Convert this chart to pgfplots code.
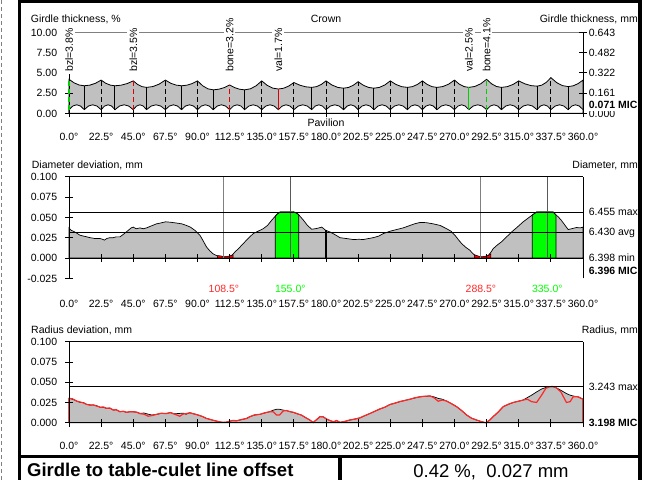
\documentclass[border=0pt]{standalone}
\usepackage{pgfplots}
\usepackage{pgfplotstable}
\pgfplotsset{compat=1.18}
\usepackage{fontspec}
\setmainfont{Liberation Sans}
\definecolor{fillgray}{RGB}{192,192,192}
\definecolor{mred}{RGB}{220,0,0}
\definecolor{mgreen}{RGB}{0,210,0}
\definecolor{lred}{RGB}{255,40,40}
\definecolor{lgreen}{RGB}{0,255,0}
\definecolor{lgray}{RGB}{128,128,128}

% Girdle: upper boundary (crown side), %
\pgfplotstableread{
x y
0 4.2
3.57 3.76
7.13 3.49
10.7 3.4
14.63 3.48
18.57 3.71
22.5 4.1
25.73 3.71
28.97 3.48
32.2 3.4
36.47 3.47
40.73 3.67
45 4.0
48.1 3.56
51.2 3.29
54.3 3.2
58.7 3.30
63.1 3.60
67.5 4.1
71.27 3.71
75.03 3.48
78.8 3.4
82.53 3.47
86.27 3.67
90 4.0
93.67 3.39
97.33 3.02
101 2.9
104.83 2.97
108.67 3.17
112.5 3.5
116 3.17
119.5 2.97
123 2.9
127 3.02
131 3.39
135 4.0
138.87 3.44
142.73 3.11
146.6 3.0
150.23 3.09
153.87 3.36
157.5 3.8
161.67 3.47
165.83 3.27
170 3.2
173.33 3.29
176.67 3.56
180 4.0
184.1 3.50
188.2 3.20
192.3 3.1
195.7 3.19
199.1 3.46
202.5 3.9
206.2 3.46
209.9 3.19
213.6 3.1
217.4 3.20
221.2 3.50
225 4.0
229 3.56
233 3.29
237 3.2
240.5 3.29
244 3.56
247.5 4.0
250.9 3.56
254.3 3.29
257.7 3.2
261.8 3.30
265.9 3.60
270 4.1
273.33 3.60
276.67 3.30
280 3.2
284.17 3.31
288.33 3.64
292.5 4.2
295.97 3.64
299.43 3.31
302.9 3.2
306.93 3.29
310.97 3.56
315 4.0
319.27 3.64
323.53 3.42
327.8 3.35
331.03 3.47
334.27 3.82
337.5 4.4
341.53 3.79
345.57 3.42
349.6 3.3
353.07 3.39
356.53 3.66
360 4.1
}\gtop

% Girdle: lower boundary (pavilion side), %
\pgfplotstableread{
x y
0 0.45
2.68 0.9
5.35 1.05
8.03 0.9
10.7 0.45
13.65 0.9
16.6 1.05
19.55 0.9
22.5 0.45
24.93 0.9
27.35 1.05
29.78 0.9
32.2 0.45
35.4 0.9
38.6 1.05
41.8 0.9
45 0.45
47.33 0.9
49.65 1.05
51.98 0.9
54.3 0.45
57.6 0.9
60.9 1.05
64.2 0.9
67.5 0.45
70.33 0.9
73.15 1.05
75.98 0.9
78.8 0.45
81.6 0.9
84.4 1.05
87.2 0.9
90 0.45
92.75 0.9
95.5 1.05
98.25 0.9
101 0.45
103.88 0.9
106.75 1.05
109.63 0.9
112.5 0.45
115.13 0.9
117.75 1.05
120.38 0.9
123 0.45
126 0.9
129 1.05
132 0.9
135 0.45
137.9 0.9
140.8 1.05
143.7 0.9
146.6 0.45
149.33 0.9
152.05 1.05
154.78 0.9
157.5 0.45
160.63 0.9
163.75 1.05
166.88 0.9
170 0.45
172.5 0.9
175 1.05
177.5 0.9
180 0.45
183.08 0.9
186.15 1.05
189.23 0.9
192.3 0.45
194.85 0.9
197.4 1.05
199.95 0.9
202.5 0.45
205.28 0.9
208.05 1.05
210.83 0.9
213.6 0.45
216.45 0.9
219.3 1.05
222.15 0.9
225 0.45
228 0.9
231 1.05
234 0.9
237 0.45
239.63 0.9
242.25 1.05
244.88 0.9
247.5 0.45
250.05 0.9
252.6 1.05
255.15 0.9
257.7 0.45
260.78 0.9
263.85 1.05
266.93 0.9
270 0.45
272.5 0.9
275 1.05
277.5 0.9
280 0.45
283.13 0.9
286.25 1.05
289.38 0.9
292.5 0.45
295.1 0.9
297.7 1.05
300.3 0.9
302.9 0.45
305.93 0.9
308.95 1.05
311.98 0.9
315 0.45
318.2 0.9
321.4 1.05
324.6 0.9
327.8 0.45
330.23 0.9
332.65 1.05
335.08 0.9
337.5 0.45
340.53 0.9
343.55 1.05
346.58 0.9
349.6 0.45
352.2 0.9
354.8 1.05
357.4 0.9
360 0.45
}\gbot

% Diameter deviation, mm
\pgfplotstableread{
x y
0 0.037
1.5 0.034
3 0.033
5 0.031
7.7 0.028
10 0.027
12.5 0.026
14.7 0.025
18 0.024
21.7 0.024
23.5 0.023
24.8 0.022
26.5 0.024
28.7 0.025
31 0.025
33 0.026
35.7 0.026
38 0.029
41.5 0.034
43.5 0.037
45 0.038
47 0.036
49.7 0.037
52 0.036
54.3 0.037
57 0.039
61.3 0.042
64 0.043
67.7 0.0445
71 0.044
75.3 0.043
79 0.042
82.3 0.040
85 0.038
88.2 0.034
90 0.031
91.7 0.028
94 0.021
96.3 0.0136
98.5 0.009
101 0.005
104.5 0.002
106.5 0.0015
108.5 0
110.5 0.001
112.7 0.002
114.5 0.004
116.2 0.0074
119 0.012
122 0.0177
125.5 0.024
129 0.030
132.5 0.033
136 0.036
139 0.040
142 0.0465
145.5 0.0535
147.8 0.0565
152 0.0565
157.2 0.0567
159 0.0555
160.7 0.0535
164.2 0.0465
167 0.040
170 0.0354
172.5 0.036
175 0.037
177 0.038
179.8 0.034
182.8 0.032
186 0.029
189.8 0.025
194 0.024
199.1 0.0227
203 0.023
206.1 0.0227
210 0.024
213.1 0.025
217 0.027
220.1 0.030
225 0.033
229.4 0.035
234 0.037
238.8 0.040
242 0.042
245.8 0.0437
250 0.0435
255.1 0.042
260 0.040
264.5 0.036
267.5 0.033
270.3 0.028
272.5 0.023
275 0.0177
278 0.013
280.8 0.0095
282.5 0.006
284.3 0.003
286.5 0.0015
288.5 0
291 0.001
293.6 0.003
295.5 0.007
297.1 0.0115
300 0.016
303 0.020
306.5 0.026
310 0.032
314 0.038
318.1 0.0445
321.5 0.049
324.4 0.0527
327.5 0.0565
333 0.0567
339.1 0.0565
341 0.053
342.6 0.0507
345 0.046
347.5 0.040
349.6 0.035
352 0.036
355.4 0.0375
358 0.037
360 0.038
}\diam

% Radius deviation (black outline), mm
\pgfplotstableread{
x y
0 0.030
2.5 0.029
5.4 0.0267
8 0.025
10 0.025
12.4 0.0226
15 0.022
17 0.022
19.4 0.021
22 0.019
24 0.019
26.4 0.0177
28.5 0.018
31.1 0.0156
33 0.016
35.7 0.0136
38 0.014
40.4 0.0128
42.5 0.0135
45 0.0136
47.5 0.013
49.7 0.0115
52.5 0.012
55.5 0.0105
58 0.0095
61.3 0.0103
64.5 0.0115
68.3 0.0115
71 0.0125
74 0.011
77.6 0.0115
80 0.0118
82 0.0105
84.6 0.0123
87.5 0.011
90.4 0.0095
93 0.008
96.3 0.0053
100 0.0035
103.3 0.002
105.5 0.001
107.9 0.0004
110.5 0.0008
112.7 0.002
115 0.0025
117.5 0.0025
119.7 0.0033
122.5 0.0045
124.5 0.0055
126.6 0.0074
130 0.0095
133.6 0.0103
137 0.012
140.6 0.0136
143 0.0155
145.3 0.0165
147.5 0.0165
150 0.0156
152.5 0.0148
155 0.0135
157 0.0128
160 0.011
162.8 0.0095
165.5 0.0065
168.7 0.0033
171 0.0002
173.5 0.004
175.8 0.0074
178 0.0074
180.5 0.0045
183 0.0025
185.2 0.0012
187.5 0.0025
189.8 0.0004
193 0.0015
196.8 0.0033
200 0.0045
203.8 0.006
207 0.0085
210.8 0.0115
214 0.014
217.8 0.0169
221 0.019
224.8 0.0226
228 0.024
231.8 0.026
235 0.0275
238.8 0.029
242 0.0305
245.8 0.032
249 0.0325
252.8 0.033
255.5 0.032
258.6 0.030
261.5 0.029
264.5 0.0267
268 0.0235
271.5 0.0198
275 0.015
278.5 0.0095
282 0.0055
285.5 0.0033
288.5 0.0015
291.8 0
294.5 0.003
297.1 0.0074
300.5 0.013
304.1 0.0198
307.5 0.0225
311.1 0.025
314.5 0.0265
318.1 0.028
321 0.031
324 0.034
327.5 0.038
331 0.0416
334 0.0435
336.8 0.0445
339 0.0445
341.4 0.043
344.5 0.040
348.4 0.036
351 0.034
353.1 0.033
356.5 0.032
360 0.029
}\radblack

% Radius deviation (red), mm
\pgfplotstableread{
x y
0 0
0 0.030
2.5 0.0295
5.4 0.0267
8 0.0255
10 0.0245
12.4 0.0226
15 0.0215
17 0.022
19.4 0.0205
22 0.019
24 0.0195
26.4 0.0177
28.5 0.0182
31.1 0.0156
33 0.0162
35.7 0.0136
38 0.0142
40.4 0.0128
42.5 0.0137
45 0.0134
47.5 0.013
49.7 0.0112
52.5 0.0105
55.5 0.008
58 0.0088
61.3 0.0103
64.5 0.0117
68.3 0.0113
71 0.0125
74 0.0105
77.6 0.008
80 0.0108
82 0.0112
84.6 0.0123
87.5 0.0108
90.4 0.0095
93 0.008
96.3 0.0053
100 0.0035
103.3 0.002
105.5 0.001
107.9 0.0004
110.5 0.0008
112.7 0.002
115 0.0028
117.5 0.0023
119.7 0.0035
122.5 0.0045
124.5 0.0052
126.6 0.0074
130 0.0097
133.6 0.0103
137 0.0122
140.6 0.0136
143 0.0135
145.3 0.0095
147.5 0.0095
150 0.0145
152.5 0.015
155 0.0135
157 0.013
160 0.011
162.8 0.0093
165.5 0.0065
168.7 0.0033
171 0.0002
173.5 0.004
175.8 0.0076
178 0.0072
180.5 0.0045
183 0.0025
185.2 0.0012
187.5 0.0027
189.8 0.0004
193 0.0015
196.8 0.0035
200 0.0043
203.8 0.006
207 0.0087
210.8 0.0113
214 0.014
217.8 0.0171
221 0.019
224.8 0.0224
228 0.024
231.8 0.0262
235 0.0273
238.8 0.029
242 0.0307
245.8 0.032
249 0.0327
252.8 0.033
255.5 0.031
258.6 0.0265
261.5 0.028
264.5 0.0267
268 0.0233
271.5 0.0198
275 0.015
278.5 0.0095
282 0.0055
285.5 0.0033
288.5 0.0015
291.8 0
294.5 0.003
297.1 0.0076
300.5 0.013
304.1 0.0198
307.5 0.0227
311.1 0.025
314.5 0.0263
318.1 0.028
321 0.029
324 0.026
327.5 0.025
331 0.034
334 0.0425
336.8 0.0445
339 0.0447
341.4 0.043
344.5 0.038
348.4 0.025
351 0.026
353.1 0.032
356.5 0.032
360 0.029
360 0
}\radred

\pgfplotsset{
  base/.style={
    scale only axis, width=514pt, xmin=0, xmax=360, clip=false,
    axis line style={draw=none}, major tick length=0pt, tick style={draw=none},
    xtick={0,22.5,45,67.5,90,112.5,135,157.5,180,202.5,225,247.5,270,292.5,315,337.5,360},
    xticklabel={\pgfmathprintnumber[fixed,fixed zerofill,precision=1,assume math mode=true]{\tick}°},
    xticklabel style={anchor=center, inner sep=0pt, text height=7.5pt, text depth=0pt},
    yticklabel style={anchor=east, inner sep=0pt, xshift=-11.7pt, text height=7.5pt, text depth=0pt},
    tick label style={font=\fontsize{10.5}{12}\selectfont},
  },
}
\tikzset{
  rlab/.style={anchor=west, inner sep=0pt, xshift=5.7pt, text height=7.5pt, text depth=0pt},
  rot/.style={rotate=90, anchor=west, fill=white, inner sep=2pt},
  ax/.style={black, line width=0.9pt},
}

\begin{document}
\fontsize{10.5}{12.6}\selectfont
\begin{tikzpicture}
\useasboundingbox (0,0) rectangle (647pt,-480pt);

% ---------- Panel 1: girdle thickness ----------
\begin{axis}[base, at={(69pt,-113.3pt)}, anchor=south west, height=81pt,
  ymin=0, ymax=10, ytick={0,2.5,5,7.5,10},
  yticklabel={\pgfmathprintnumber[fixed,fixed zerofill,precision=2,assume math mode=true]{\tick}},
  xticklabel style={yshift=-23.4pt}]
\addplot[fill=fillgray, draw=black, line width=0.8pt] table {\gtop} \closedcycle;
\addplot[fill=white, draw=black, line width=0.8pt] table {\gbot} \closedcycle;
% valley lines
\addplot[black, line width=1pt, unbounded coords=jump] coordinates {
 (10.7,0.45)(10.7,3.4)(10.7,nan) (32.2,0.45)(32.2,3.4)(32.2,nan)
 (54.3,0.45)(54.3,3.2)(54.3,nan) (78.8,0.45)(78.8,3.4)(78.8,nan)
 (101,0.45)(101,2.9)(101,nan) (123,0.45)(123,2.9)(123,nan)
 (170,0.45)(170,3.2)(170,nan) (192.3,0.45)(192.3,3.1)(192.3,nan)
 (213.6,0.45)(213.6,3.1)(213.6,nan) (237,0.45)(237,3.2)(237,nan)
 (257.7,0.45)(257.7,3.2)(257.7,nan) (302.9,0.45)(302.9,3.2)(302.9,nan)
 (327.8,0.45)(327.8,3.35)(327.8,nan) (349.6,0.45)(349.6,3.3)};
% peak lines
\addplot[black, line width=1pt, dash pattern=on 5pt off 3pt, unbounded coords=jump] coordinates {
 (22.5,0.45)(22.5,4.1)(22.5,nan) (67.5,0.45)(67.5,4.1)(67.5,nan)
 (90,0.45)(90,4.0)(90,nan) (135,0.45)(135,4.0)(135,nan)
 (157.5,0.45)(157.5,3.8)(157.5,nan) (180,0.45)(180,4.0)(180,nan)
 (202.5,0.45)(202.5,3.9)(202.5,nan) (225,0.45)(225,4.0)(225,nan)
 (247.5,0.45)(247.5,4.0)(247.5,nan) (270,0.45)(270,4.1)(270,nan)
 (315,0.45)(315,4.0)(315,nan) (337.5,0.45)(337.5,4.4)};
% axis lines
\draw[lgray, line width=1.5pt] (axis cs:0,10) -- (axis cs:360,10);
\draw[ax] (axis cs:0,0) -- (axis cs:360,0);
\draw[ax] (axis cs:0,0) -- (axis cs:0,10);
\draw[ax] (axis cs:360,0) -- (axis cs:360,10);
\pgfplotsinvokeforeach{0,22.5,45,67.5,90,112.5,135,157.5,180,202.5,225,247.5,270,292.5,315,337.5,360}{
  \draw[ax] ([yshift=-4pt]axis cs:#1,0) -- ([yshift=4pt]axis cs:#1,0);}
\pgfplotsinvokeforeach{0,2.5,5,7.5,10}{
  \draw[ax] ([xshift=-4pt]axis cs:0,#1) -- ([xshift=4pt]axis cs:0,#1);
  \draw[ax] ([xshift=-4pt]axis cs:360,#1) -- ([xshift=4pt]axis cs:360,#1);}
% special lines
\addplot[mgreen, line width=1.3pt, dash pattern=on 5pt off 3pt] coordinates {(0,0.45)(0,4.2)};
\addplot[mred, line width=1.3pt, dash pattern=on 5pt off 3pt] coordinates {(45,0.45)(45,4.0)};
\addplot[mred, line width=1.3pt, dash pattern=on 5pt off 3pt] coordinates {(112.5,0.45)(112.5,3.5)};
\addplot[mred, line width=1.3pt] coordinates {(146.6,0.45)(146.6,3.0)};
\addplot[mgreen, line width=1.3pt] coordinates {(280,0.45)(280,3.2)};
\addplot[mgreen, line width=1.3pt, dash pattern=on 5pt off 3pt] coordinates {(292.5,0.45)(292.5,4.2)};
% labels
\node[rot] at (axis cs:0,4.85) {bzl=3.8\%};
\node[rot] at (axis cs:45,4.85) {bzl=3.5\%};
\node[rot] at (axis cs:112.5,4.85) {bone=3.2\%};
\node[rot] at (axis cs:146.6,4.85) {val=1.7\%};
\node[rot] at (axis cs:280,4.85) {val=2.5\%};
\node[rot] at (axis cs:292.5,4.85) {bone=4.1\%};
\node[rlab] at (axis cs:360,10) {0.643};
\node[rlab] at (axis cs:360,7.5) {0.482};
\node[rlab] at (axis cs:360,5) {0.322};
\node[rlab] at (axis cs:360,2.5) {0.161};
\node[rlab] at (axis cs:360,0) {0.000};
\node[rlab, fill=white, inner ysep=2.6pt, font=\bfseries] at (axis cs:360,1.1) {0.071 MIC};
\end{axis}

% ---------- Panel 2: diameter deviation ----------
\begin{axis}[base, at={(69pt,-278.3pt)}, anchor=south west, height=101.6pt,
  ymin=-0.025, ymax=0.1, ytick={-0.025,0,0.025,0.05,0.075,0.1},
  yticklabel={\pgfmathprintnumber[fixed,fixed zerofill,precision=3,assume math mode=true]{\tick}},
  xticklabel style={yshift=-25pt}]
\addplot[fill=fillgray, draw=black, line width=0.7pt] table {\diam} \closedcycle;
\addplot[fill=lgreen, draw=black, line width=0.8pt] coordinates {(144.5,0.051)(145.5,0.0535)(147.8,0.0565)(152,0.0565)(157.2,0.0567)(159,0.0555)(160.7,0.0535)(160.9,0.053)} \closedcycle;
\addplot[fill=lgreen, draw=black, line width=0.8pt] coordinates {(324.5,0.0528)(327.5,0.0565)(333,0.0567)(339.1,0.0565)(341,0.053)(341.1,0.053)} \closedcycle;
\addplot[fill=red, draw=black, line width=0.5pt] coordinates {(104,0.003)(106.5,0.0025)(108.5,0.0015)(110.5,0.002)(112.7,0.0025)(115,0.004)} \closedcycle;
\addplot[fill=red, draw=black, line width=0.5pt] coordinates {(284,0.004)(286.5,0.0025)(288.5,0.0015)(291,0.002)(293.6,0.003)(295.4,0.005)} \closedcycle;
\addplot[black, line width=1.2pt] coordinates {(180,0)(180,0.034)};
\addplot[lgray, line width=1pt] coordinates {(108.5,0)(108.5,0.1)};
\addplot[gray!70!black, line width=1pt] coordinates {(155,0)(155,0.1)};
\addplot[lgray, line width=1pt] coordinates {(288.5,0)(288.5,0.1)};
\addplot[gray!70!black, line width=1pt] coordinates {(335,0)(335,0.1)};
\addplot[black, line width=0.8pt] coordinates {(0,0.0567)(360,0.0567)};
\addplot[black, line width=0.8pt] coordinates {(0,0.032)(360,0.032)};
\draw[ax] (axis cs:0,0.1) -- (axis cs:360,0.1);
\draw[ax] (axis cs:0,0) -- (axis cs:360,0);
\draw[ax] (axis cs:0,-0.025) -- (axis cs:0,0.1);
\draw[ax] (axis cs:360,-0.025) -- (axis cs:360,0.1);
\pgfplotsinvokeforeach{0,22.5,45,67.5,90,112.5,135,157.5,180,202.5,225,247.5,270,292.5,315,337.5,360}{
  \draw[ax] ([yshift=-4pt]axis cs:#1,0) -- ([yshift=4pt]axis cs:#1,0);}
\pgfplotsinvokeforeach{-0.025,0,0.025,0.05,0.075,0.1}{
  \draw[ax] ([xshift=-4pt]axis cs:0,#1) -- ([xshift=4pt]axis cs:0,#1);}
\node[text=lred, inner sep=0pt, text height=7.5pt, text depth=0pt] at (axis cs:108.5,-0.0377) {108.5°};
\node[text=lgreen, inner sep=0pt, text height=7.5pt, text depth=0pt] at (axis cs:155,-0.0377) {155.0°};
\node[text=lred, inner sep=0pt, text height=7.5pt, text depth=0pt] at (axis cs:288.5,-0.0377) {288.5°};
\node[text=lgreen, inner sep=0pt, text height=7.5pt, text depth=0pt] at (axis cs:335,-0.0377) {335.0°};
\node[rlab] at (axis cs:360,0.0567) {6.455 max};
\node[rlab] at (axis cs:360,0.032) {6.430 avg};
\node[rlab] at (axis cs:360,0.0005) {6.398 min};
\node[rlab, font=\bfseries] at (axis cs:360,-0.0152) {6.396 MIC};
\end{axis}

% ---------- Panel 3: radius deviation ----------
\begin{axis}[base, at={(69pt,-422.7pt)}, anchor=south west, height=81pt,
  ymin=0, ymax=0.1, ytick={0,0.025,0.05,0.075,0.1},
  yticklabel={\pgfmathprintnumber[fixed,fixed zerofill,precision=3,assume math mode=true]{\tick}},
  xticklabel style={yshift=-23.5pt}]
\addplot[fill=fillgray, draw=black, line width=0.7pt] table {\radblack} \closedcycle;
\addplot[lred, line width=1.2pt] table {\radred};
\addplot[black, line width=0.8pt] coordinates {(0,0.045)(360,0.045)};
\draw[ax] (axis cs:0,0.1) -- (axis cs:360,0.1);
\draw[ax] (axis cs:0,0) -- (axis cs:360,0);
\draw[ax] (axis cs:0,0) -- (axis cs:0,0.1);
\draw[ax] (axis cs:360,0) -- (axis cs:360,0.1);
\pgfplotsinvokeforeach{0,22.5,45,67.5,90,112.5,135,157.5,180,202.5,225,247.5,270,292.5,315,337.5,360}{
  \draw[ax] ([yshift=-4pt]axis cs:#1,0) -- ([yshift=4pt]axis cs:#1,0);}
\pgfplotsinvokeforeach{0,0.025,0.05,0.075,0.1}{
  \draw[ax] ([xshift=-4pt]axis cs:0,#1) -- ([xshift=4pt]axis cs:0,#1);}
\node[rlab] at (axis cs:360,0.045) {3.243 max};
\node[rlab, font=\bfseries] at (axis cs:360,0) {3.198 MIC};
\end{axis}

% ---------- titles ----------
\node[anchor=base west, inner sep=0pt] at (30.7pt,-22.5pt) {Girdle thickness, \%};
\node[anchor=base, inner sep=0pt] at (326pt,-22.5pt) {Crown};
\node[anchor=base east, inner sep=0pt] at (638pt,-22.5pt) {Girdle thickness, mm};
\node[anchor=base, inner sep=0pt] at (326pt,-126pt) {Pavilion};
\node[anchor=base west, inner sep=0pt] at (31.7pt,-168.5pt) {Diameter deviation, mm};
\node[anchor=base east, inner sep=0pt] at (638pt,-168.5pt) {Diameter, mm};
\node[anchor=base west, inner sep=0pt] at (31pt,-333.5pt) {Radius deviation, mm};
\node[anchor=base east, inner sep=0pt] at (638pt,-333.5pt) {Radius, mm};

% ---------- bottom table ----------
\node[anchor=base west, inner sep=0pt, font=\fontsize{18.5}{22}\selectfont\bfseries] at (27pt,-476.5pt) {Girdle to table-culet line offset};
\node[anchor=base, inner sep=0pt, font=\fontsize{18.5}{22}\selectfont] at (491pt,-477pt) {0.42 \%,\ \ 0.027 mm};

% ---------- frame ----------
\draw[lgray, line width=1.2pt, dash pattern=on 4pt off 3pt] (1.7pt,0pt) -- (1.7pt,-480pt);
\draw[black, line width=3pt] (19.5pt,0pt) -- (19.5pt,-480pt);
\draw[black, line width=2.7pt] (18pt,-1.35pt) -- (642pt,-1.35pt);
\draw[black, line width=4pt] (640pt,0pt) -- (640pt,-480pt);
\draw[black, line width=2.7pt] (18pt,-456.3pt) -- (642pt,-456.3pt);
\draw[black, line width=3.4pt] (340pt,-456.3pt) -- (340pt,-480pt);
\end{tikzpicture}
\end{document}
